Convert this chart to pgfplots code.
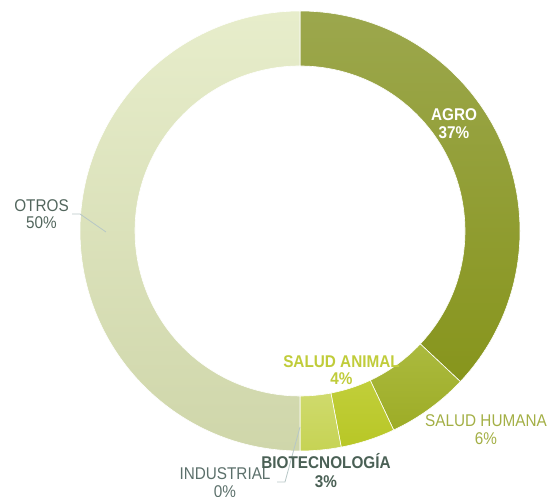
\documentclass[border=0pt]{standalone}
\usepackage{pgfplots}
\pgfplotsset{compat=1.18}
\usepackage{fontspec}
\setmainfont{Liberation Sans}[FakeStretch=0.9]
\definecolor{agroT}{HTML}{9CA74D}
\definecolor{agroB}{HTML}{87951C}
\definecolor{shT}{HTML}{ABBA3E}
\definecolor{shB}{HTML}{9DAC26}
\definecolor{saT}{HTML}{C1CE3A}
\definecolor{saB}{HTML}{B8C726}
\definecolor{bioT}{HTML}{CFDA6C}
\definecolor{bioB}{HTML}{C6D354}
\definecolor{indT}{HTML}{D5DCB2}
\definecolor{indB}{HTML}{D5DCB2}
\definecolor{otT}{HTML}{E7EDCB}
\definecolor{otB}{HTML}{CFD6AA}
\definecolor{txSA}{HTML}{C0CC3A}
\definecolor{txSH}{HTML}{A3AF45}
\definecolor{txBIO}{HTML}{4A6055}
\definecolor{txIND}{HTML}{5C706B}
\definecolor{txOT}{HTML}{52665D}
\definecolor{leader}{HTML}{B7C7C6}
\begin{document}
\begin{tikzpicture}
\begin{axis}[at={(0,0)}, anchor=south west, scale only axis,
  width=554pt, height=497pt, xmin=0, xmax=554, ymin=0, ymax=497,
  hide axis, clip=false]
\addplot[draw=none, forget plot] coordinates {(0,0) (554,497)};
\pgfplotsextra{
  \gdef\cum{0}
  \foreach \v/\ct/\cb in {37/agroT/agroB, 6/shT/shB, 4/saT/saB, 3/bioT/bioB, 0/indT/indB, 50/otT/otB} {
    \pgfmathsetmacro\aa{90-3.6*\cum}
    \pgfmathsetmacro\ab{90-3.6*(\cum+\v)}
    \ifdim \v pt>0pt
      \shadedraw[draw=white, line width=0.6pt, top color=\ct, bottom color=\cb]
        (axis cs:{300+220*cos(\aa)},{266+220*sin(\aa)})
        arc[start angle=\aa, end angle=\ab, radius=220pt]
        -- (axis cs:{300+165*cos(\ab)},{266+165*sin(\ab)})
        arc[start angle=\ab, end angle=\aa, radius=165pt] -- cycle;
    \fi
    \pgfmathsetmacro\newcum{\cum+\v}
    \global\let\cum\newcum
  }
  % leader lines
  \draw[leader, line width=0.8pt] (axis cs:72,283) -- (axis cs:80,283) -- (axis cs:106,265);
  \draw[leader, line width=0.8pt] (axis cs:300,70) -- (axis cs:285,15) -- (axis cs:277,15);
  % labels
  \begin{scope}[every node/.style={anchor=base, inner sep=0pt, font=\fontsize{17}{20}\selectfont}]
    \node[white, font=\fontsize{17}{20}\selectfont\bfseries] at (axis cs:454,376) {AGRO};
    \node[white, font=\fontsize{17}{20}\selectfont\bfseries] at (axis cs:454,358) {37\%};
    \node[txSA, font=\fontsize{17}{20}\selectfont\bfseries] at (axis cs:341.5,129) {SALUD ANIMAL};
    \node[txSA, font=\fontsize{17}{20}\selectfont\bfseries] at (axis cs:341.5,112) {4\%};
    \node[txSH] at (axis cs:486,70) {SALUD HUMANA};
    \node[txSH] at (axis cs:486,52) {6\%};
    \node[txIND] at (axis cs:225,17) {INDUSTRIAL};
    \node[txIND] at (axis cs:225,-1) {0\%};
    \node[txBIO, font=\fontsize{17}{20}\selectfont\bfseries] at (axis cs:326,28) {BIOTECNOLOGÍA};
    \node[txBIO, font=\fontsize{17}{20}\selectfont\bfseries] at (axis cs:326,9) {3\%};
    \node[txOT] at (axis cs:41.5,285) {OTROS};
    \node[txOT] at (axis cs:41.5,268) {50\%};
  \end{scope}
}
\end{axis}
\pgfresetboundingbox
\useasboundingbox (0,0) rectangle (554pt,497pt);
\end{tikzpicture}
\end{document}
